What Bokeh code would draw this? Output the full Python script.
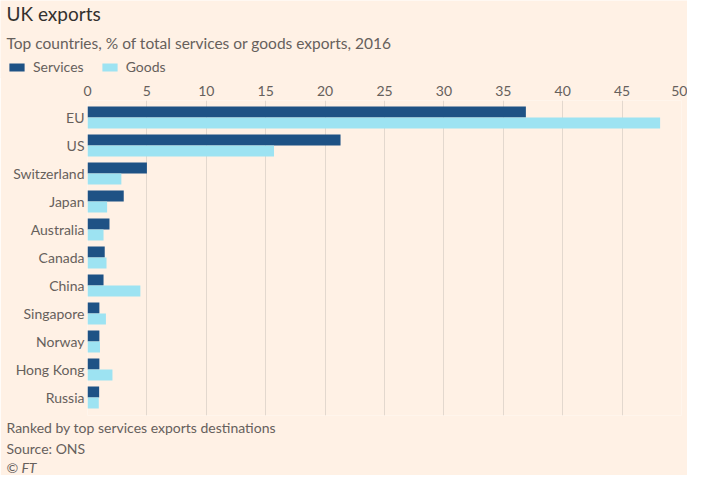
from bokeh.plotting import figure
from bokeh.models import (Range1d, FixedTicker, Title, Legend, LegendItem,
                          ColumnDataSource, Label)
from bokeh.transform import dodge
from bokeh.embed import file_html
from bokeh.resources import INLINE

countries = ["EU", "US", "Switzerland", "Japan", "Australia", "Canada",
             "China", "Singapore", "Norway", "Hong Kong", "Russia"]
services = [36.9, 21.3, 5.0, 3.05, 1.85, 1.45, 1.35, 1.0, 1.0, 1.0, 0.98]
goods = [48.2, 15.7, 2.85, 1.65, 1.35, 1.6, 4.45, 1.55, 1.05, 2.1, 0.95]
x_ticks = [0, 5, 10, 15, 20, 25, 30, 35, 40, 45, 50]
series_names = ["Services", "Goods"]

BG = "#fff1e5"
DARK = "#1e5285"
LIGHT = "#9de3f2"
TXT = "#66605c"
FONT = "Lato"
W = 687
HH = 78   # header height
OV = 2    # overlap of main chart onto header

# ---------- header: title, subtitle, legend ----------
h = figure(width=W, height=HH, x_range=Range1d(0, W), y_range=Range1d(HH, 0),
           output_backend="svg", toolbar_location=None, title=None,
           x_axis_location=None, y_axis_location=None,
           min_border=0)
h.background_fill_color = BG
h.border_fill_color = BG
h.outline_line_color = None
h.grid.visible = False

h.add_layout(Label(x=6, y=13, text="UK exports", text_font=FONT,
                   text_font_size="19px", text_color="#33302e",
                   text_baseline="middle"))
h.add_layout(Label(x=6, y=42,
                   text="Top countries, % of total services or goods exports, 2016",
                   text_font=FONT, text_font_size="15.5px", text_color=TXT,
                   text_baseline="middle"))

# zero-width placeholder bars that only feed the legend keys
lsrc = ColumnDataSource(dict(y=[0], r=[0]))
lr1 = h.hbar(y="y", left=0, right="r", height=1, source=lsrc,
             fill_color=DARK, line_color=None)
lr2 = h.hbar(y="y", left=0, right="r", height=1, source=lsrc,
             fill_color=LIGHT, line_color=None)
legend = Legend(items=[LegendItem(label=series_names[0], renderers=[lr1]),
                       LegendItem(label=series_names[1], renderers=[lr2])],
                orientation="horizontal", location=(7, 3),
                glyph_width=19, glyph_height=10, label_height=10,
                label_standoff=7, spacing=16, padding=0, margin=0,
                border_line_color=None, background_fill_alpha=0,
                label_text_font=FONT, label_text_font_size="14px",
                label_text_color=TXT)
h.add_layout(legend, "center")

# ---------- main chart ----------
src = ColumnDataSource(dict(pos=list(range(len(countries))),
                            services=services, goods=goods))

p = figure(width=W, height=475 - HH + OV, title=None,
           x_range=Range1d(0, 50), y_range=Range1d(10.643, -0.607),
           x_axis_location="above",
           output_backend="svg", toolbar_location=None,
           min_border_left=87, min_border_right=6,
           min_border_top=100 - HH + OV, min_border_bottom=60,
           margin=(-OV, 0, 0, 0))
p.background_fill_color = BG
p.border_fill_color = BG
p.outline_line_color = None

bh = 0.393
p.hbar(y=dodge("pos", -0.1965, range=p.y_range), right="services",
       left=0, height=bh, source=src, fill_color=DARK, line_color=None)
p.hbar(y=dodge("pos", 0.1965, range=p.y_range), right="goods",
       left=0, height=bh, source=src, fill_color=LIGHT, line_color=None)

p.xaxis.ticker = FixedTicker(ticks=x_ticks)
p.yaxis.ticker = FixedTicker(ticks=list(range(len(countries))))
p.yaxis.major_label_overrides = {i: c for i, c in enumerate(countries)}
for ax in (p.xaxis, p.yaxis):
    ax.axis_line_color = None
    ax.major_tick_line_color = None
    ax.minor_tick_line_color = None
    ax.major_tick_out = 0
    ax.major_tick_in = 0
    ax.major_label_text_font = FONT
    ax.major_label_text_font_size = "14px"
    ax.major_label_text_color = TXT
    ax.major_label_standoff = 3
p.xaxis.major_label_standoff = 5
p.xgrid.grid_line_color = "#e3d8ce"
p.xgrid.grid_line_width = 1
p.ygrid.grid_line_color = None


def foot(text, style="normal", standoff=0):
    p.add_layout(Title(text=text, text_font=FONT, text_font_size="14px",
                       text_color=TXT, text_font_style=style,
                       align="left", offset=-81, standoff=standoff), "below")


foot("Ranked by top services exports destinations", standoff=3)
foot("Source: ONS")
foot("\u00a9 FT", style="italic")

open("out.html", "w").write(file_html([h, p], INLINE))
